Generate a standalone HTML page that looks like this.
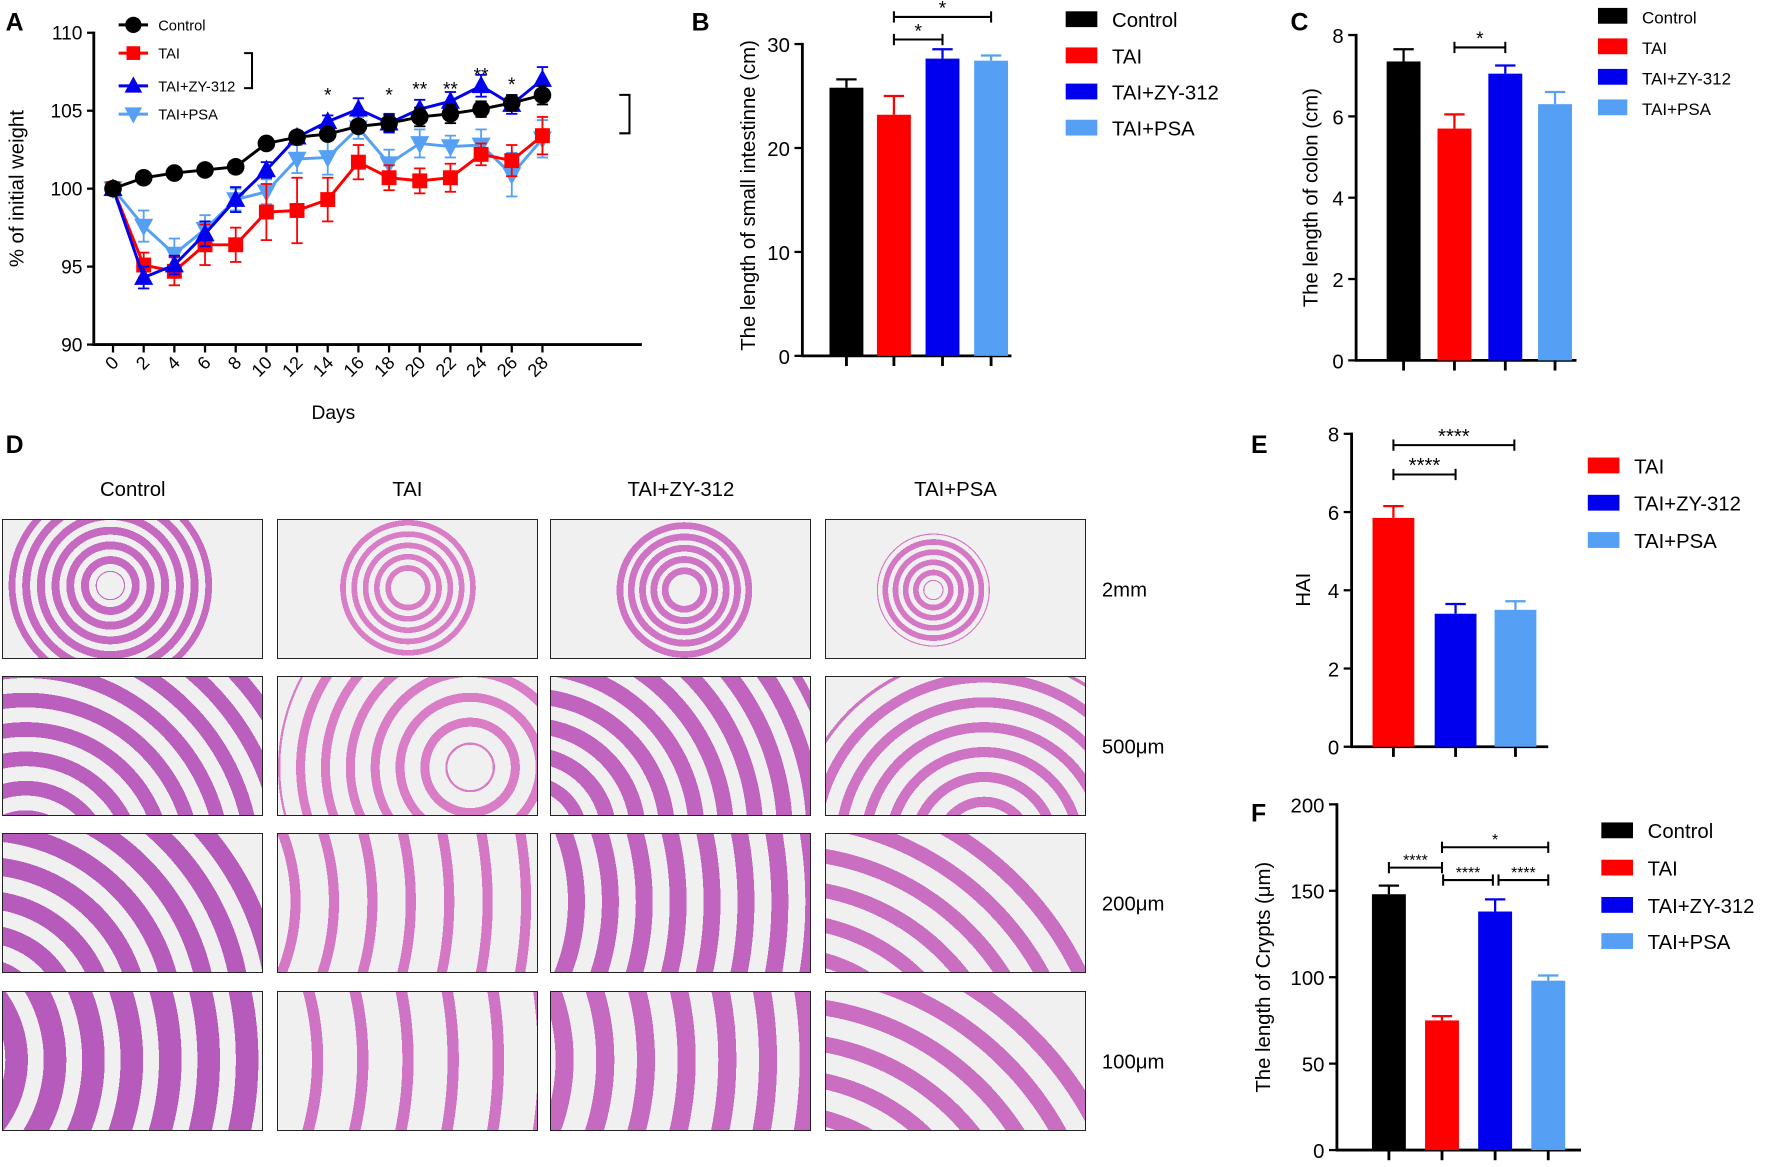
<!DOCTYPE html>
<html><head><meta charset="utf-8"><style>
html,body{margin:0;padding:0;background:#fff;width:1772px;height:1167px;overflow:hidden;position:relative;}
svg{display:block;font-family:"Liberation Sans",Arial,sans-serif;position:absolute;left:0;top:0;}
.histo{position:absolute;box-sizing:border-box;border:1.7px solid #222;overflow:hidden;}
</style></head><body>
<svg id="fig" width="1772" height="1167" viewBox="0 0 1568 1033" preserveAspectRatio="none" xmlns="http://www.w3.org/2000/svg">
<rect width="1568" height="1033" fill="#fff"/>
</svg>
<script>
// ---------- Panel A data ----------
const daysA = [0,2,4,6,8,10,12,14,16,18,20,22,24,26,28];
const ctrlA = [100,100.7,101,101.2,101.4,102.9,103.3,103.5,104.0,104.2,104.6,104.8,105.1,105.5,106.0];
const ctrlErrA = [0,0.2,0.2,0.2,0.2,0.3,0.3,0.3,0.4,0.5,0.6,0.6,0.5,0.5,0.6];
const taiA = [100,95.1,94.7,96.4,96.4,98.5,98.6,99.3,101.7,100.7,100.5,100.7,102.2,101.8,103.4];
const taiErrA = [0,0.8,0.9,1.3,1.1,1.8,2.1,1.4,1.1,0.8,0.8,0.9,0.7,1.0,1.2];
const zyA = [100,94.3,95.1,97.1,99.3,101.2,103.3,104.3,105.1,104.2,105.1,105.6,106.6,105.4,107.0];
const zyErrA = [0,0.7,0.6,0.8,0.8,0.5,0.4,0.4,0.7,0.6,0.6,0.6,0.7,0.6,0.8];
const psaA = [100,97.6,95.8,97.4,99.3,99.8,101.9,102.0,103.9,101.6,102.9,102.7,102.8,100.9,103.2];
const psaErrA = [0,1.0,1.0,0.9,0.7,0.8,0.9,1.1,0.7,0.9,0.9,0.7,1.0,1.4,1.2];
const yTicksA = [90,95,100,105,110];
const starDaysA = [14,18,20,22,24,26];
const starLabelsA = ["*","*","**","**","**","*"];
const starValsA = [106.3,106.3,106.7,106.7,107.6,107.0];
// ---------- Panel B ----------
const groups4 = ["Control","TAI","TAI+ZY-312","TAI+PSA"];
const valsB = [25.8,23.2,28.6,28.4];
const errB = [0.8,1.8,0.9,0.5];
const ticksB = [0,10,20,30];
// ---------- Panel C ----------
const valsC = [7.35,5.7,7.05,6.3];
const errC = [0.3,0.35,0.2,0.3];
const ticksC = [0,2,4,6,8];
// ---------- Panel E ----------
const groups3 = ["TAI","TAI+ZY-312","TAI+PSA"];
const valsE = [5.85,3.4,3.5];
const errE = [0.3,0.25,0.22];
const ticksE = [0,2,4,6,8];
// ---------- Panel F ----------
const valsF = [148,75,138,98];
const errF = [5,2.5,7,3];
const ticksF = [0,50,100,150,200];

const NS="http://www.w3.org/2000/svg";
const svg=document.getElementById('fig');
function el(tag,attrs,parent,text){
  const e=document.createElementNS(NS,tag);
  for(const k in attrs) e.setAttribute(k,attrs[k]);
  if(text!==undefined) e.textContent=text;
  (parent||svg).appendChild(e);
  return e;
}
const colors={"Control":"#000","TAI":"#ff0000","TAI+ZY-312":"#0000ee","TAI+PSA":"#55a0f5"};

// ===== Panel A =====
const gA=el('g',{});


const xA=d=>100+(d/28)*380;
const yA=v=>305-(v-90)*13.8;
let t=el('text',{x:5,y:27,'font-size':22,'font-weight':'bold'},gA,'A');

el('line',{x1:83,y1:28,x2:83,y2:306,stroke:'#000','stroke-width':2.5},gA);
el('line',{x1:82,y1:305,x2:568,y2:305,stroke:'#000','stroke-width':2.5},gA);
yTicksA.forEach(v=>{
  el('line',{x1:77,y1:yA(v),x2:83,y2:yA(v),stroke:'#000','stroke-width':2},gA);
  const tt=el('text',{x:73,y:yA(v)+6,'font-size':17,'text-anchor':'end'},gA,String(v));
  
});
daysA.forEach(d=>{
  el('line',{x1:xA(d),y1:305,x2:xA(d),y2:312,stroke:'#000','stroke-width':2},gA);
  const tt=el('text',{x:xA(d)+6,y:322,'font-size':16,'text-anchor':'end',transform:`rotate(-45 ${xA(d)+6} 322)`},gA,String(d));
  
});
t=el('text',{x:295,y:371,'font-size':17,'text-anchor':'middle'},gA,'Days');

t=el('text',{x:21,y:167,'font-size':18,'text-anchor':'middle',transform:'rotate(-90 21 167)'},gA,'% of initial weight');

function marker(g,type,x,y,c,s){
  if(type==='circle') return el('circle',{cx:x,cy:y,r:s*0.6,fill:c},g);
  if(type==='square') return el('rect',{x:x-s*0.55,y:y-s*0.55,width:s*1.1,height:s*1.1,fill:c},g);
  if(type==='up') return el('polygon',{points:`${x},${y-s*0.7} ${x-s*0.65},${y+s*0.5} ${x+s*0.65},${y+s*0.5}`,fill:c},g);
  return el('polygon',{points:`${x},${y+s*0.7} ${x-s*0.65},${y-s*0.5} ${x+s*0.65},${y-s*0.5}`,fill:c},g);
}
const seriesA=[
  {name:'TAI+PSA',vals:psaA,err:psaErrA,m:'down'},
  {name:'TAI',vals:taiA,err:taiErrA,m:'square'},
  {name:'TAI+ZY-312',vals:zyA,err:zyErrA,m:'up'},
  {name:'Control',vals:ctrlA,err:ctrlErrA,m:'circle'}
];
seriesA.forEach(s=>{
  const g=el('g',{},gA);
  
  
  const c=colors[s.name];
  s.vals.forEach((v,i)=>{
    if(s.err[i]>0){
      const x=xA(daysA[i]);
      el('line',{x1:x,y1:yA(v-s.err[i]),x2:x,y2:yA(v+s.err[i]),stroke:c,'stroke-width':1.6},g);
      el('line',{x1:x-5,y1:yA(v+s.err[i]),x2:x+5,y2:yA(v+s.err[i]),stroke:c,'stroke-width':1.6},g);
      el('line',{x1:x-5,y1:yA(v-s.err[i]),x2:x+5,y2:yA(v-s.err[i]),stroke:c,'stroke-width':1.6},g);
    }
  });
  el('polyline',{points:s.vals.map((v,i)=>xA(daysA[i])+','+yA(v)).join(' '),fill:'none',stroke:c,'stroke-width':2.6},g);
  s.vals.forEach((v,i)=>{
    const m=marker(g,s.m,xA(daysA[i]),yA(v),c,s.m==='square'?12:13);
    
  });
});
starDaysA.forEach((d,i)=>{
  const tt=el('text',{x:xA(d),y:yA(starValsA[i])+10,'font-size':17,'text-anchor':'middle'},gA,starLabelsA[i]);
  
});
const legA=[['Control','circle',22],['TAI','square',47],['TAI+ZY-312','up',76],['TAI+PSA','down',101]];
legA.forEach(l=>{
  const g=el('g',{},gA);
  
  el('line',{x1:105,y1:l[2],x2:131,y2:l[2],stroke:colors[l[0]],'stroke-width':2.6},g);
  marker(g,l[1],118,l[2],colors[l[0]],l[1]==='square'?11:12);
  el('text',{x:140,y:l[2]+5,'font-size':13},g,l[0]);
});
el('polyline',{points:'216,47 223,47 223,78 216,78',fill:'none',stroke:'#000','stroke-width':1.8},gA);
el('polyline',{points:'548,84 557,84 557,118 548,118',fill:'none',stroke:'#000','stroke-width':1.8},gA);

// ===== generic bar chart =====
function barChart(o){
  const g=el('g',{});
  
  const y=v=>o.y0-(v-o.ticks[0])/(o.ticks[o.ticks.length-1]-o.ticks[0])*(o.y0-o.yTop);
  let tt=el('text',{x:o.lx,y:o.ly,'font-size':22,'font-weight':'bold'},g,o.letter);
  
  el('line',{x1:o.ax,y1:o.yTop-1,x2:o.ax,y2:o.y0+1,stroke:'#000','stroke-width':2.5},g);
  el('line',{x1:o.ax-1,y1:o.y0,x2:o.xEnd,y2:o.y0,stroke:'#000','stroke-width':2.5},g);
  o.ticks.forEach(v=>{
    el('line',{x1:o.ax-7,y1:y(v),x2:o.ax,y2:y(v),stroke:'#000','stroke-width':2},g);
    const k=el('text',{x:o.ax-11,y:y(v)+7,'font-size':o.tfs,'text-anchor':'end'},g,String(v));
    
  });
  o.vals.forEach((v,i)=>{
    const cx=o.cx[i],c=colors[o.groups[i]];
    const b=el('rect',{x:cx-o.bw/2,y:y(v),width:o.bw,height:o.y0-y(v),fill:c},g);
    
    
    const e=o.err[i];
    el('line',{x1:cx,y1:y(v),x2:cx,y2:y(v+e),stroke:c,'stroke-width':2},g);
    el('line',{x1:cx-9,y1:y(v+e),x2:cx+9,y2:y(v+e),stroke:c,'stroke-width':2},g);
    el('line',{x1:cx,y1:o.y0,x2:cx,y2:Math.min(o.y0+9,1030),stroke:'#000','stroke-width':2.5},g);
  });
  tt=el('text',{x:o.ytx,y:o.yty,'font-size':o.yfs,'text-anchor':'middle',transform:`rotate(-90 ${o.ytx} ${o.yty})`},g,o.ytitle);
  
  o.sig.forEach(s=>{
    const sg=el('g',{},g);
    
    el('line',{x1:s[0],y1:s[2],x2:s[1],y2:s[2],stroke:'#000','stroke-width':1.8},sg);
    el('line',{x1:s[0],y1:s[2]-5,x2:s[0],y2:s[2]+5,stroke:'#000','stroke-width':1.8},sg);
    el('line',{x1:s[1],y1:s[2]-5,x2:s[1],y2:s[2]+5,stroke:'#000','stroke-width':1.8},sg);
    el('text',{x:(s[0]+s[1])/2,y:s[2]-2,'font-size':s[4]||17,'text-anchor':'middle'},sg,s[3]);
  });
  o.groups.forEach((n,i)=>{
    const lg=el('g',{},g);
    
    el('rect',{x:o.legX,y:o.legY[i]-7,width:o.legW,height:14,fill:colors[n]},lg);
    el('text',{x:o.legX+o.legW+13,y:o.legY[i]+7,'font-size':o.legFs},lg,n);
  });
}
barChart({name:'panel-b-small-intestine-chart',letter:'B',lx:612,ly:27,ax:710,y0:315,yTop:39,xEnd:895,ticks:ticksB,tfs:18,
  vals:valsB,err:errB,groups:groups4,cx:[749,791,834,877],bw:30,ytitle:'The length of small intestinne (cm)',ytx:668,yty:173,yfs:18,
  sig:[[791,834,35,'*'],[791,877,15,'*']],legX:943,legW:28,legY:[17,49,81,113],legFs:18});
barChart({name:'panel-c-colon-chart',letter:'C',lx:1142,ly:27,ax:1200,y0:319,yTop:31,xEnd:1395,ticks:ticksC,tfs:18,
  vals:valsC,err:errC,groups:groups4,cx:[1242,1287,1332,1376],bw:30,ytitle:'The length of colon (cm)',ytx:1166,yty:175,yfs:18,
  sig:[[1287,1332,42,'*']],legX:1414,legW:26,legY:[14,41,68,95],legFs:15});
barChart({name:'panel-e-hai-chart',letter:'E',lx:1107,ly:401,ax:1196,y0:661,yTop:384,xEnd:1370,ticks:ticksE,tfs:18,
  vals:valsE,err:errE,groups:groups3,cx:[1233,1288,1341],bw:37,ytitle:'HAI',ytx:1159,yty:522,yfs:18,
  sig:[[1233,1288,420,'****',18],[1233,1340,394,'****',18]],legX:1405,legW:28,legY:[412,445,478],legFs:18});
barChart({name:'panel-f-crypts-chart',letter:'F',lx:1107,ly:727,ax:1183,y0:1018,yTop:712,xEnd:1399,ticks:ticksF,tfs:18,
  vals:valsF,err:errF,groups:groups4,cx:[1229,1276,1323,1370],bw:30,ytitle:'The length of Crypts (μm)',ytx:1124,yty:865,yfs:18,
  sig:[[1229,1276,768,'****',14],[1276,1370,750,'*',14],[1277,1321,779,'****',14],[1326,1370,779,'****',14]],legX:1417,legW:28,legY:[735,768,801,833],legFs:18});

// ===== Panel D histology =====
const gD=el('g',{});

t=el('text',{x:5,y:401,'font-size':22,'font-weight':'bold'},gD,'D');

const colX=[2,245,487,730],colW=231;
const rowY=[459,598,737,877],rowH=124;
const heads=['Control','TAI','TAI+ZY-312','TAI+PSA'];
const scales=['2mm','500μm','200μm','100μm'];
heads.forEach((h,i)=>{
  const tt=el('text',{x:colX[i]+colW/2,y:439,'font-size':18,'text-anchor':'middle'},gD,h);
  
});
scales.forEach((s,i)=>{
  const tt=el('text',{x:975,y:rowY[i]+rowH/2+7,'font-size':18},gD,s);
  
});
// cell params: [cx,cy,rmax,rmin,step,thick,purple]
const cells=[
 [[95,58,90,12,13,7,0.5],[115,60,62,10,10,5,0.1],[118,62,62,10,10,6,0.3],[95,62,50,8,9,5,0.2]],
 [[20,170,260,40,26,13,0.7],[170,80,170,20,22,8,0.1],[-20,140,280,40,26,14,0.6],[140,150,170,20,22,9,0.3]],
 [[-20,170,280,30,30,16,0.8],[-150,60,420,100,34,9,0.2],[-150,60,420,100,30,15,0.6],[-40,250,300,40,30,13,0.4]],
 [[-80,60,350,60,34,20,0.8],[-200,60,440,100,40,10,0.3],[-160,60,420,100,36,16,0.5],[-40,260,320,40,32,14,0.4]]
];
const SX=1772/1568, SY=1167/1033;
for(let r=0;r<4;r++)for(let c=0;c<4;c++){
  const p=cells[r][c];
  const d=document.createElement('div');
  d.className='histo';
  
  
  d.style.left=(colX[c]*SX)+'px';d.style.top=(rowY[r]*SY)+'px';
  d.style.width=(colW*SX)+'px';d.style.height=(rowH*SY)+'px';
  const col=`rgb(${Math.round(222-50*p[6])},${Math.round(130-50*p[6])},${Math.round(200-15*p[6])})`;
  const cx=p[0]*SX, cy=p[1]*SY, rmax=p[2]*SX, rmin=p[3]*SX, step=p[4]*SX, th=p[5]*SX;
  const at=`circle at ${cx}px ${cy}px`;
  d.style.background=
    `radial-gradient(${at}, #f1f0f0 ${rmin}px, transparent ${rmin}px),`+
    `radial-gradient(${at}, transparent ${rmax}px, #f1f0f0 ${rmax}px),`+
    `repeating-radial-gradient(${at}, #f1f0f0 0px, #f1f0f0 ${step-th}px, ${col} ${step-th}px, ${col} ${step}px),`+
    `#f1f0f0`;
  document.body.appendChild(d);
}
</script>
</body></html>
